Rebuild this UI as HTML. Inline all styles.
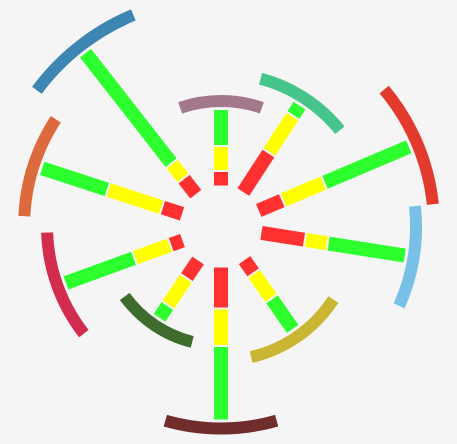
<!DOCTYPE html>
<html><head><meta charset="utf-8"><style>
html,body{margin:0;padding:0;background:#f5f5f5;}
svg{display:block;}
</style></head><body>
<svg id="chart" width="457" height="444" viewBox="0 0 457 444" xmlns="http://www.w3.org/2000/svg">
<rect x="0" y="0" width="457" height="444" fill="#f5f5f5"/>
<g id="bars"></g>
<g id="arcs"></g>
</svg>
<script>
const categories = ["c1","c2","c3","c4","c5","c6","c7","c8","c9","c10"];
const redValues = [13.5,46,25,43,15,40,20,12,20,19];
const yellowValues = [23,42,43,21,29,35.5,31,36,55,17];
const greenValues = [35,11,91,77,36,72.5,14,72,68,139];
const arcColors = ["#a3788c","#45c48c","#e23b2e","#79c0e6","#cab632","#712c2c","#3f6b2c","#d22c4e","#dd6a3c","#3d86b4"];

const angles = [0,33,67,99,145,180,214,250,288,322];
const arcHalf = [19,18,17,15,22,16,20,18,15,15.5];
const cx = 221, cy = 226.5, inner = 41, gap = 2, barW = 14, k = 1;
const segColors = ["#ff3030","#ffff00","#2eff2e"];
const NS = "http://www.w3.org/2000/svg";
const barsG = document.getElementById("bars");
const arcsG = document.getElementById("arcs");
function rScale(v){ return v * k; }
function polar(r, deg){ const a = deg*Math.PI/180; return [cx + r*Math.sin(a), cy - r*Math.cos(a)]; }

categories.forEach((c, i) => {
  const g = document.createElementNS(NS, "g");
  
  
  g.setAttribute("transform", `rotate(${angles[i]} ${cx} ${cy})`);
  const vals = [redValues[i], yellowValues[i], greenValues[i]];
  const names = ["red","yellow","green"];
  let r = inner;
  vals.forEach((v, j) => {
    const len = rScale(v);
    const rect = document.createElementNS(NS, "rect");
    
    
    rect.setAttribute("x", cx - barW/2);
    rect.setAttribute("y", cy - r - len);
    rect.setAttribute("width", barW);
    rect.setAttribute("height", len);
    rect.setAttribute("fill", segColors[j]);
    g.appendChild(rect);
    r += len + gap;
  });
  barsG.appendChild(g);
  const tip = r - gap;
  const ar = tip + 9;
  const p1 = polar(ar, angles[i] - arcHalf[i]);
  const p2 = polar(ar, angles[i] + arcHalf[i]);
  const path = document.createElementNS(NS, "path");
  
  
  path.setAttribute("d", `M${p1[0]},${p1[1]} A${ar},${ar} 0 0 1 ${p2[0]},${p2[1]}`);
  path.setAttribute("fill", "none");
  path.setAttribute("stroke", arcColors[i]);
  path.setAttribute("stroke-width", 12);
  arcsG.appendChild(path);
});
</script>
</body></html>
